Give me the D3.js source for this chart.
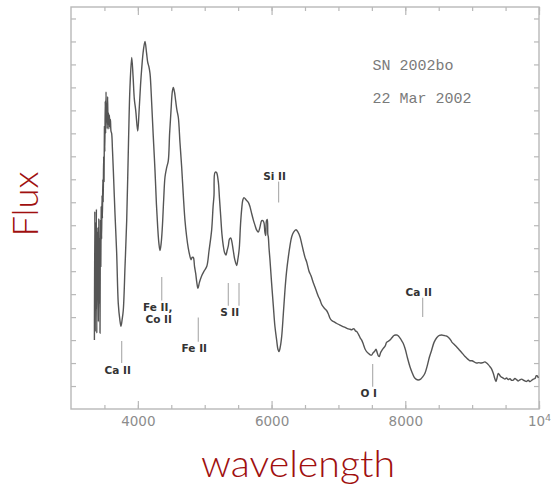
<!DOCTYPE html>
<html>
<head>
<meta charset="utf-8">
<script src="https://cdn.jsdelivr.net/npm/d3@7/dist/d3.min.js"></script>
<style>
  html, body { margin: 0; padding: 0; background: #fff; }
  svg { display: block; }
</style>
</head>
<body>
<svg id="chart" width="551" height="487"></svg>
<script>
// SN 2002bo optical spectrum, 22 Mar 2002 (flux in arbitrary units)
const wavelength = [
  3350,3356,3362,3368,3374,3380,3386,3392,3398,3404,3410,3416,3422,3428,3434,3440,3446,3452,3458,3464,
  3470,3476,3482,3488,3494,3500,3506,3512,3518,3524,3530,3536,3542,3548,3554,3560,3566,3574,3582,3590,
  3598,3608,3620,3633,3658,3683,3707,3730,3748,3765,3782,3808,3833,3860,3882,3908,3928,3947,3968,3998,
  4017,4040,4057,4082,4107,4130,4147,4165,4182,4207,4230,4256,4278,4297,4315,4331,4348,4366,4386,4406,
  4430,4455,4475,4496,4515,4530,4548,4566,4585,4605,4630,4656,4680,4705,4730,4754,4775,4795,4812,4829,
  4848,4865,4882,4899,4920,4955,4990,5030,5065,5104,5125,5139,5154,5175,5203,5220,5239,5258,5278,5298,
  5318,5335,5353,5370,5388,5405,5427,5450,5478,5495,5517,5535,5553,5570,5587,5620,5652,5678,5703,5730,
  5752,5775,5801,5825,5852,5870,5887,5900,5912,5924,5936,5944,5951,5962,5976,6000,6026,6050,6076,6095,
  6111,6130,6151,6175,6201,6225,6250,6275,6301,6330,6365,6395,6425,6450,6474,6500,6525,6560,6590,6624,
  6650,6680,6700,6724,6750,6773,6800,6820,6848,6874,6900,6930,6960,6990,7023,7060,7100,7135,7173,7200,
  7230,7255,7273,7300,7325,7348,7375,7400,7422,7450,7475,7497,7520,7540,7562,7580,7600,7611,7630,7650,
  7671,7700,7720,7745,7771,7800,7830,7855,7880,7905,7930,7950,7970,8000,8035,8070,8100,8130,8160,8194,
  8230,8260,8294,8330,8360,8395,8430,8470,8510,8544,8580,8610,8643,8680,8700,8730,8769,8800,8830,8860,
  8890,8918,8945,8970,9000,9030,9068,9100,9130,9160,9190,9217,9245,9267,9290,9316,9336,9356,9372,9390,
  9406,9425,9445,9466,9490,9515,9540,9565,9590,9615,9640,9665,9690,9715,9740,9765,9790,9815,9840,9865,
  9890,9915,9940,9960,9974,9990
];
const flux = [
  3.0,8.6,3.4,8.1,4.4,8.7,3.3,7.7,4.9,7.9,3.8,8.3,4.6,7.4,3.3,8.2,6.2,8.8,7.4,9.3,
  8.3,10.0,9.0,11.0,9.9,12.3,11.2,13.4,12.0,13.8,12.5,13.3,12.2,13.6,12.4,12.9,12.2,12.8,12.3,12.6,
  12.1,12.0,11.3,10.4,8.5,6.8,4.6,3.9,3.6,3.9,4.3,6.2,8.2,11.6,14.0,15.3,14.5,13.5,13.0,12.1,
  12.9,14.1,14.8,15.6,16.0,15.5,15.1,14.9,14.6,13.3,11.9,10.4,8.9,7.9,7.2,6.9,7.2,7.9,9.1,10.1,
  10.5,10.8,12.0,13.0,13.8,14.0,13.8,13.4,13.0,12.7,11.6,10.5,9.3,8.2,7.5,7.0,6.7,6.5,6.6,6.6,
  6.2,5.9,5.5,5.25,5.5,5.8,6.0,6.2,6.9,7.8,8.8,9.3,10.3,10.3,9.9,9.2,8.4,7.6,7.1,6.8,
  6.7,6.9,7.1,7.4,7.45,7.3,6.9,6.5,6.25,6.5,7.0,8.0,8.7,9.1,9.2,9.1,9.0,8.8,8.5,8.2,
  8.0,7.8,7.7,7.9,8.2,8.2,8.1,7.7,7.55,8.2,8.25,7.6,7.5,7.0,6.5,5.5,4.5,3.6,3.0,2.6,
  2.5,2.7,3.15,4.1,5.2,6.0,6.6,7.1,7.5,7.7,7.8,7.7,7.5,7.2,6.9,6.6,6.4,6.0,5.8,5.5,
  5.3,5.05,4.9,4.75,4.55,4.45,4.35,4.3,4.15,3.95,3.85,3.8,3.75,3.7,3.65,3.6,3.55,3.5,3.47,3.45,
  3.5,3.4,3.37,3.25,3.1,3.0,2.8,2.6,2.5,2.42,2.36,2.35,2.45,2.5,2.6,2.45,2.3,2.28,2.45,2.55,
  2.64,2.75,2.9,2.95,3.0,3.1,3.2,3.22,3.22,3.15,3.05,2.95,2.85,2.6,2.2,1.84,1.6,1.4,1.3,1.26,
  1.3,1.4,1.56,1.9,2.25,2.57,2.9,3.1,3.2,3.22,3.2,3.18,3.12,3.0,2.9,2.82,2.7,2.6,2.5,2.4,
  2.3,2.22,2.15,2.1,2.1,2.05,2.0,2.02,2.0,2.02,2.05,2.0,1.92,1.84,1.75,1.56,1.35,1.2,1.35,1.55,
  1.5,1.42,1.38,1.34,1.3,1.35,1.28,1.32,1.25,1.26,1.33,1.28,1.22,1.27,1.3,1.26,1.22,1.2,1.25,1.19,
  1.25,1.3,1.33,1.45,1.44,1.35
];

// Line identifications: tick wavelength, tick flux range, label lines
const lineIds    = [["Si II"], ["Ca II"], ["Fe II,", "Co II"], ["Fe II"], ["S II"], ["O I"], ["Ca II"]];
const lineWaves  = [[6105], [3758], [4357], [4904], [5353, 5513], [7512], [8260]];
const lineTop    = [9.90, 2.96, 5.75, 3.98, 5.49, 1.96, 4.84];
const lineBottom = [8.99, 2.00, 4.72, 2.93, 4.49, 0.97, 4.00];
const labelAbove = [true, false, false, false, false, false, true];

const majorTicks = [4000, 6000, 8000, 10000];
const minorTicks = d3.range(3500, 10001, 500);
const fluxTicks  = d3.range(1, 18);
const titleLines = ["SN 2002bo", "22 Mar 2002"];

const svg = d3.select("#chart");
const plot = { left: 71, right: 539, top: 7, bottom: 409 };

const x = d3.scaleLinear().domain([3000, 10000]).range([plot.left, plot.right]);
const y = d3.scaleLinear().domain([0, 17.5]).range([plot.bottom, plot.top]);

const frameColor = "#b8b8b8";

// axes with inward ticks on all four sides
function styleAxis(g) {
  g.select(".domain").remove();
  g.selectAll(".tick line").attr("stroke", frameColor).attr("stroke-width", 1.2);
}

svg.append("g")
  .attr("transform", `translate(0,${plot.bottom})`)
  .call(d3.axisBottom(x).tickValues(minorTicks).tickSizeInner(-4).tickFormat(""))
  .call(styleAxis);

const bottomMajor = svg.append("g")
  .attr("transform", `translate(0,${plot.bottom})`)
  .call(d3.axisBottom(x).tickValues(majorTicks).tickSizeInner(-8).tickPadding(7).tickFormat(d3.format("d")))
  .call(styleAxis);

bottomMajor.selectAll(".tick text")
  .attr("fill", "#8c8c8c")
  .attr("font-family", "'DejaVu Sans', sans-serif")
  .attr("font-size", 13.5)
  .each(function (d) {
    if (d === 10000) {
      const t = d3.select(this);
      t.text("10");
      t.append("tspan").attr("dy", "-0.45em").attr("font-size", 9.5).text("4");
    }
  });

svg.append("g")
  .attr("transform", `translate(0,${plot.top})`)
  .call(d3.axisTop(x).tickValues(minorTicks).tickSizeInner(-4).tickFormat(""))
  .call(styleAxis);
svg.append("g")
  .attr("transform", `translate(0,${plot.top})`)
  .call(d3.axisTop(x).tickValues(majorTicks).tickSizeInner(-8).tickFormat(""))
  .call(styleAxis);

svg.append("g")
  .attr("transform", `translate(${plot.left},0)`)
  .call(d3.axisLeft(y).tickValues(fluxTicks).tickSizeInner(-5).tickFormat(""))
  .call(styleAxis);
svg.append("g")
  .attr("transform", `translate(${plot.right},0)`)
  .call(d3.axisRight(y).tickValues(fluxTicks).tickSizeInner(-5).tickFormat(""))
  .call(styleAxis);

// frame
svg.append("rect")
  .attr("x", plot.left).attr("y", plot.top)
  .attr("width", plot.right - plot.left).attr("height", plot.bottom - plot.top)
  .attr("fill", "none").attr("stroke", frameColor).attr("stroke-width", 1.4);

// spectrum
const points = wavelength.map((w, i) => [w, flux[i]]);
svg.append("path")
  .datum(points)
  .attr("fill", "none")
  .attr("stroke", "#555")
  .attr("stroke-width", 1.4)
  .attr("stroke-linejoin", "round")
  .attr("d", d3.line().x(d => x(d[0])).y(d => y(d[1])).curve(d3.curveCatmullRom.alpha(0.5)));

// line identification marks and labels
const idGroup = svg.append("g");
lineIds.forEach((label, i) => {
  const waves = lineWaves[i];
  waves.forEach(w => {
    idGroup.append("line")
      .attr("x1", x(w)).attr("x2", x(w))
      .attr("y1", y(lineTop[i])).attr("y2", y(lineBottom[i]))
      .attr("stroke", "#b0b0b0").attr("stroke-width", 1.2);
  });
  const cx = d3.mean(waves, w => x(w)) - 4;
  const lh = 11.7;
  const startY = labelAbove[i]
    ? y(lineTop[i]) - 2 - (label.length - 1) * lh
    : y(lineBottom[i]) + 10.5;
  label.forEach((txt, k) => {
    idGroup.append("text")
      .attr("x", cx + (k === 1 ? 1 : 0))
      .attr("y", startY + k * lh)
      .attr("text-anchor", "middle")
      .attr("font-family", "'DejaVu Sans', sans-serif")
      .attr("font-weight", "bold")
      .attr("font-size", 10.5)
      .attr("fill", "#333")
      .text(txt);
  });
});

// object name and date
titleLines.forEach((txt, i) => {
  svg.append("text")
    .attr("x", 372.5)
    .attr("y", 70 + i * 33)
    .attr("font-family", "'Liberation Mono', monospace")
    .attr("font-size", 15)
    .attr("fill", "#7a7a7a")
    .text(txt);
});

// axis titles
svg.append("text")
  .attr("x", 298).attr("y", 476.5)
  .attr("text-anchor", "middle")
  .attr("font-family", "Lato, 'Open Sans', sans-serif")
  .attr("font-weight", 300)
  .attr("font-size", 38)
  .attr("fill", "#a00f0f")
  .attr("textLength", 194)
  .attr("lengthAdjust", "spacingAndGlyphs")
  .text("wavelength");

svg.append("text")
  .attr("transform", "translate(38,204) rotate(-90)")
  .attr("text-anchor", "middle")
  .attr("font-family", "Lato, 'Open Sans', sans-serif")
  .attr("font-weight", 300)
  .attr("font-size", 36)
  .attr("fill", "#a00f0f")
  .attr("textLength", 65)
  .attr("lengthAdjust", "spacingAndGlyphs")
  .text("Flux");
</script>
</body>
</html>
